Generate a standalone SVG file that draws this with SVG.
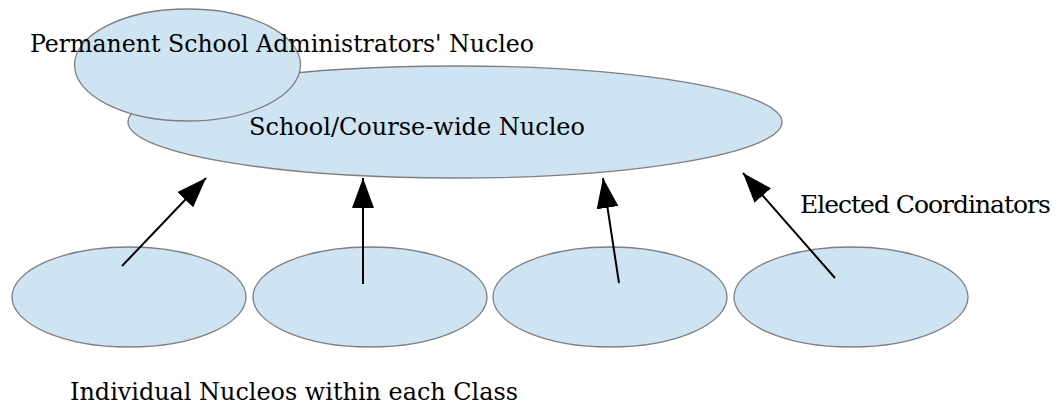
<svg xmlns="http://www.w3.org/2000/svg" width="1059" height="406" viewBox="0 0 1059 406">
<style>
.node{fill:#cfe4f2;stroke:#7f7f7f;stroke-width:1.3}
.lbl{font-family:'DejaVu Serif',serif;font-size:25px;fill:#000}
.edge{stroke:#000;stroke-width:2;fill:none;marker-end:url(#arr)}
</style>
<defs>
<marker id="arr" markerUnits="userSpaceOnUse" markerWidth="31" markerHeight="23" refX="30" refY="11" orient="auto">
<path d="M0,0 L30,11 L0,22 z" fill="#000"/>
</marker>
</defs>
<rect width="1059" height="406" fill="#fff"/>
<g id="school-nucleo">
<ellipse class="node" cx="455" cy="122" rx="327" ry="56"/>
</g>
<g id="admin-nucleo">
<ellipse class="node" cx="187.5" cy="65" rx="113" ry="56"/>
</g>
<g id="class-nucleo-1"><ellipse class="node" cx="129" cy="297" rx="117" ry="50"/></g>
<g id="class-nucleo-2"><ellipse class="node" cx="370" cy="297" rx="117" ry="50"/></g>
<g id="class-nucleo-3"><ellipse class="node" cx="610" cy="297" rx="117" ry="50"/></g>
<g id="class-nucleo-4"><ellipse class="node" cx="851" cy="297" rx="117" ry="50"/></g>
<g id="connectors">
<line class="edge" x1="122" y1="266" x2="206" y2="178"/>
<line class="edge" x1="363" y1="284" x2="363" y2="178"/>
<line class="edge" x1="619" y1="283" x2="603" y2="178"/>
<line class="edge" x1="835" y1="278" x2="743" y2="173"/>
</g>
<g id="labels">
<text class="lbl" x="30" y="52" textLength="504" lengthAdjust="spacingAndGlyphs">Permanent School Administrators' Nucleo</text>
<text class="lbl" x="249" y="135" textLength="336" lengthAdjust="spacingAndGlyphs">School/Course-wide Nucleo</text>
<text class="lbl" x="800" y="213" letter-spacing="-1">Elected Coordinators</text>
<text class="lbl" x="70" y="400" textLength="448" lengthAdjust="spacingAndGlyphs">Individual Nucleos within each Class</text>
</g>
</svg>
